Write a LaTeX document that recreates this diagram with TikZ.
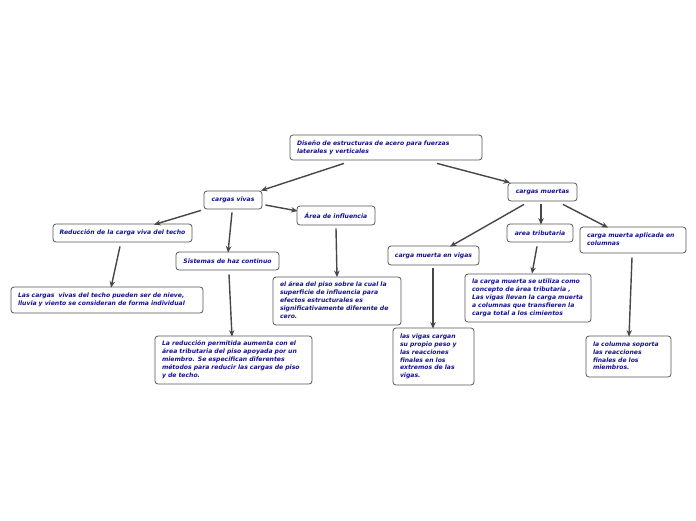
\documentclass[tikz,border=0pt]{standalone}
\usepackage{fontspec}
\setmainfont{DejaVu Sans}
\usetikzlibrary{arrows.meta,calc}
\definecolor{txt}{RGB}{18,18,145}
\definecolor{edge}{RGB}{70,70,70}
\definecolor{bord}{RGB}{85,85,85}
\newcommand{\ls}[1]{\begin{tabular}{@{}l@{}}#1\end{tabular}}
\begin{document}
\begin{tikzpicture}[x=1pt,y=-1pt,
  box/.style={draw=bord, line width=0.8pt, rounded corners=3pt, fill=white,
    font=\fontsize{6.1}{7.9}\selectfont\bfseries\itshape, text=txt,
    inner xsep=7pt, inner ysep=0pt, anchor=center},
  conn/.style={draw=edge, line width=1.4pt, -{Stealth[length=6.5pt,width=5.5pt]}}]
\useasboundingbox (0,0) rectangle (696,520);
\newcommand{\bx}[5]{\node[box, minimum width=#3pt, minimum height=#4pt, text width=#3pt-14pt, align=left] (#1) at (#2) {\ls{#5}};}
\newcommand{\bc}[5]{\node[box, minimum width=#3pt, minimum height=#4pt, inner xsep=2pt] (#1) at (#2) {#5};}
\bx{d}{386,147.5}{192}{25}{Diseño de estructuras de acero para fuerzas\\laterales y verticales}
\bc{cv}{233,200}{58}{18}{cargas vivas}
\bc{ai}{336,215.5}{78}{19}{Área de influencia}
\bc{red}{122.5,233}{139}{18}{Reducción de la carga viva del techo}
\bc{sh}{227.5,261}{103}{18}{Sistemas de haz continuo}
\bx{lcv}{107,300}{192}{26}{Las cargas\ \ vivas del techo pueden ser de nieve,\\lluvia y viento se consideran de forma individual}
\bx{lrp}{233.5,360}{157}{48}{La reducción permitida aumenta con el\\área tributaria del piso apoyada por un\\miembro. Se especifican diferentes\\métodos para reducir las cargas de piso\\y de techo.}
\bx{eap}{337,301}{128}{48}{el área del piso sobre la cual la\\superficie de influencia para\\efectos estructurales es\\significativamente diferente de\\cero.}
\bc{cm}{542.5,192}{69}{18}{cargas muertas}
\bc{at}{540,233}{66}{18}{area tributaria}
\bx{cmc}{633,240}{106}{26}{carga muerta aplicada en\\columnas}
\bc{cmv}{433.5,255.5}{91}{19}{carga muerta en vigas}
\bx{lcm}{528,298}{126}{48}{la carga muerta se utiliza como\\concepto de área tributaria ,\\Las vigas llevan la carga muerta\\a columnas que transfieren la\\carga total a los cimientos}
\bx{lvc}{433.5,356.5}{81}{57}{las vigas cargan\\su propio peso y\\las reacciones\\finales en los\\extremos de las\\vigas.}
\bx{lcs}{628.5,356.5}{85}{41}{la columna soporta\\las reacciones\\finales de los\\miembros.}
% connectors
\draw[conn] ($(d.south)+(-42,3)$) -- ($(cv.north)+(28,0)$);
\draw[conn] ($(d.south)+(51,3)$) -- ($(cm.north)+(-32.5,0)$);
\draw[conn] ($(cv.south)+(-32,1)$) -- ($(red.north)+(31.5,1)$);
\draw[conn] ($(cv.south)+(-1,3)$) -- ($(sh.north)+(0.5,1)$);
\draw[conn] ($(cv.east)+(3,5)$) -- ($(ai.west)+(1,-4.5)$);
\draw[conn] ($(red.south)+(-2.5,4)$) -- ($(lcv.north)+(4,1)$);
\draw[conn] ($(sh.south)+(1.5,4)$) -- ($(lrp.north)+(-1.5,1)$);
\draw[conn] ($(ai.south)+(0,3)$) -- ($(eap.north)+(0,0.5)$);
\draw[conn] ($(cm.south)+(-18.5,3)$) -- ($(cmv.north)+(16.5,1)$);
\draw[conn] ($(cm.south)+(-1.5,3)$) -- ($(at.north)+(1,1)$);
\draw[conn] ($(cm.south)+(20.5,3)$) -- ($(cmc.north)+(-25,1)$);
\draw[conn] ($(at.south)+(-3,4)$) -- ($(lcm.north)+(4,0)$);
\draw[conn] ($(cmv.south)+(-0.5,3)$) -- ($(lvc.north)+(-0.5,1)$);
\draw[conn] ($(cmc.south)+(-1,4)$) -- ($(lcs.north)+(0.5,1)$);
\end{tikzpicture}
\end{document}
